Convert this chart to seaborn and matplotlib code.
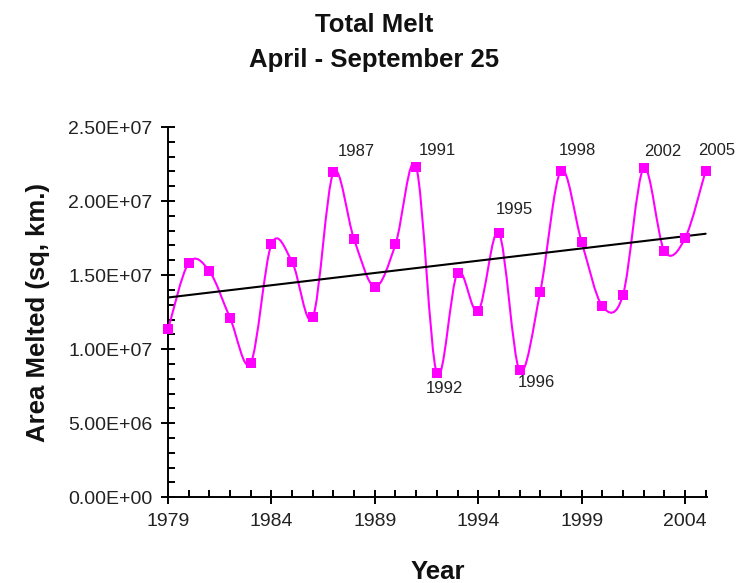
import numpy as np
import pandas as pd
import matplotlib
matplotlib.use("Agg")
import matplotlib.pyplot as plt
from matplotlib.path import Path
from matplotlib.patches import PathPatch
from matplotlib.ticker import MultipleLocator, FuncFormatter
import seaborn as sns

# ---- data ----
years = [1979, 1980, 1981, 1982, 1983, 1984, 1985, 1986, 1987, 1988,
         1989, 1990, 1991, 1992, 1993, 1994, 1995, 1996, 1997, 1998,
         1999, 2000, 2001, 2002, 2003, 2004, 2005]
melt = [1.133e7, 1.583e7, 1.527e7, 1.211e7, 0.907e7, 1.707e7, 1.590e7,
        1.214e7, 2.194e7, 1.741e7, 1.421e7, 1.707e7, 2.232e7, 0.836e7,
        1.516e7, 1.257e7, 1.786e7, 0.858e7, 1.387e7, 2.205e7, 1.725e7,
        1.291e7, 1.365e7, 2.221e7, 1.664e7, 1.748e7, 2.205e7]
labeled_years = [1987, 1991, 1995, 1992, 1996, 1998, 2002, 2005]
x_ticks = [1979, 1984, 1989, 1994, 1999, 2004]
title_text = "Total Melt\nApril - September 25"
x_title = "Year"
y_title = "Area Melted (sq, km.)"

# label offsets (points) - style only
label_offsets = {1987: (16.6, 15.1), 1991: (15.1, 11.5), 1995: (11.5, 16.6),
                 1992: (5.8, -10.8), 1996: (12.2, -8.6), 1998: (11.5, 14.4),
                 2002: (13.7, 12.2), 2005: (8.0, 14.4)}

df = pd.DataFrame({"Year": years, "Melt": melt})

sns.set_theme(style="white")
plt.rcParams["font.family"] = ["Liberation Sans", "DejaVu Sans"]

W, H = 749, 583
fig = plt.figure(figsize=(W / 100, H / 100), dpi=100)
ax = fig.add_axes([168 / W, 1 - 497.3 / H, (706.7 - 168) / W, (497.3 - 127) / H])

MAG = "#FF00FF"

# smooth (Catmull-Rom style bezier) curve through the points
pts = np.column_stack([df["Year"].to_numpy(float), df["Melt"].to_numpy(float)])
ext = np.vstack([pts[0], pts, pts[-1]])
verts = [tuple(pts[0])]
codes = [Path.MOVETO]
for i in range(len(pts) - 1):
    p0, p1, p2, p3 = ext[i], ext[i + 1], ext[i + 2], ext[i + 3]
    c1 = p1 + (p2 - p0) / 6.0
    c2 = p2 - (p3 - p1) / 6.0
    verts += [tuple(c1), tuple(c2), tuple(p2)]
    codes += [Path.CURVE4] * 3
ax.add_patch(PathPatch(Path(verts, codes), fill=False, edgecolor=MAG, lw=1.5,
                       zorder=3, clip_on=False))

# trend line
sns.regplot(data=df, x="Year", y="Melt", ax=ax, scatter=False, ci=None,
            line_kws=dict(color="black", lw=1.5, zorder=4))

# markers
sns.scatterplot(data=df, x="Year", y="Melt", ax=ax, marker="s", s=55,
                color=MAG, edgecolor=MAG, linewidth=0, zorder=5, legend=False,
                clip_on=False)

# year labels
for yr in labeled_years:
    v = df.loc[df["Year"] == yr, "Melt"].iloc[0]
    dx, dy = label_offsets[yr]
    ax.annotate(str(yr), (yr, v), xytext=(dx, dy), textcoords="offset points",
                ha="center", va="center", fontsize=12, color="#222222")

ax.set_xlim(1979, 2005.05)
ax.set_ylim(0, 2.5e7)
ax.set_xticks(x_ticks)
ax.xaxis.set_minor_locator(MultipleLocator(1))
ax.yaxis.set_major_locator(MultipleLocator(5e6))
ax.yaxis.set_minor_locator(MultipleLocator(1e6))
ax.yaxis.set_major_formatter(FuncFormatter(lambda v, p: f"{v:.2E}"))

for s in ["top", "right"]:
    ax.spines[s].set_visible(False)
for s in ["left", "bottom"]:
    ax.spines[s].set_color("black")
    ax.spines[s].set_linewidth(1.4)

ax.tick_params(which="major", direction="inout", length=10, width=1.4,
               color="black", labelsize=14, labelcolor="#222222", pad=6)
ax.tick_params(which="minor", direction="in", length=5, width=1.4, color="black")
ax.tick_params(axis="x", which="both", bottom=True)
ax.tick_params(axis="y", which="both", left=True)

ax.set_xlabel(x_title, fontsize=18.5, fontweight="bold", color="#111111")
ax.set_ylabel(y_title, fontsize=18.5, fontweight="bold", color="#111111")
ax.xaxis.set_label_coords(0.5, -0.169)
ax.yaxis.set_label_coords(-0.219, 0.5)

fig.text(0.5, 1 - 42.5 / H, title_text, ha="center", va="center",
         fontsize=18.5, fontweight="bold", color="#111111", linespacing=1.6)

fig.savefig("out.png", dpi=100, facecolor="white")
